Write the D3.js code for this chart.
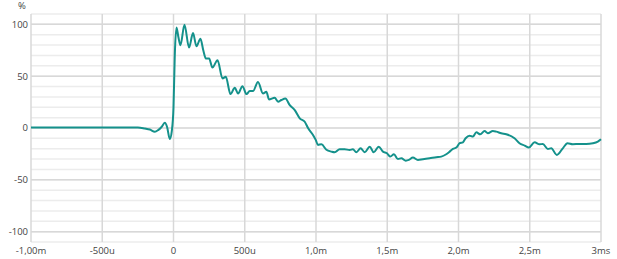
<html>
<head>
<script src="https://cdn.jsdelivr.net/npm/d3@7"></script>
<style>
    body { margin: 0; background: white; font-family: "Open Sans", sans-serif; }
    svg { display: block; }
    .tick-label { font-size: 9.5px; fill: #444; }
</style>
</head>
<body>
<svg id="chart"></svg>
<script>
    // time in ms, value in %
    let times = [-1.0, -0.5, -0.25, -0.201, -0.166, -0.131, -0.108, -0.084, -0.061, -0.045, -0.026, -0.012, 0.0, 0.009, 0.021, 0.034, 0.049, 0.077, 0.109, 0.137, 0.161, 0.189, 0.209, 0.227, 0.25, 0.273, 0.309, 0.344, 0.367, 0.4, 0.43, 0.453, 0.484, 0.512, 0.535, 0.558, 0.593, 0.628, 0.652, 0.67, 0.71, 0.734, 0.757, 0.785, 0.816, 0.851, 0.886, 0.921, 0.944, 0.979, 0.998, 1.014, 1.038, 1.073, 1.108, 1.131, 1.166, 1.201, 1.236, 1.259, 1.283, 1.313, 1.342, 1.377, 1.405, 1.44, 1.47, 1.498, 1.522, 1.547, 1.575, 1.599, 1.63, 1.652, 1.68, 1.715, 1.75, 1.797, 1.844, 1.879, 1.914, 1.938, 1.961, 1.985, 2.008, 2.031, 2.05, 2.078, 2.101, 2.125, 2.153, 2.183, 2.206, 2.241, 2.265, 2.3, 2.335, 2.393, 2.428, 2.464, 2.494, 2.534, 2.569, 2.592, 2.627, 2.651, 2.69, 2.732, 2.765, 2.802, 2.849, 2.896, 2.943, 2.978, 3.0];
    let values = [0.5, 0.5, 0.5, -0.5, -1.5, -3.5, -2, 1, 5, 1, -10.6, -3, 20, 70, 97, 88, 79.8, 99.7, 77.6, 91.6, 78.8, 86.2, 75, 67, 67, 58.3, 65.4, 47.8, 49.4, 32.7, 38.8, 33.3, 40.4, 32.7, 35.6, 35.6, 44.5, 33.3, 35, 27.6, 29.1, 25.3, 27, 28.5, 22, 17.3, 9.3, 6, 0, -6.7, -11.5, -16.3, -15.7, -21, -22.8, -23.4, -20.5, -20.5, -21.2, -20.5, -23.4, -19.6, -23.4, -18, -23.4, -18, -22.8, -24.4, -27.6, -25.3, -30, -29.2, -31.5, -30.8, -28.5, -30.8, -30.1, -29.2, -28.2, -27.6, -25.3, -22.8, -20.2, -18.9, -14.7, -13.8, -9.9, -7.4, -8.3, -4.2, -6.1, -2.9, -5.1, -2.9, -3.5, -5.1, -6, -9.9, -14.7, -17, -18.9, -13.8, -15.7, -15.4, -20.2, -19.6, -26, -19.6, -14.7, -15.7, -15.4, -15.4, -14.7, -13.1, -10.9];

    let xTicks = [-1, -0.5, 0, 0.5, 1, 1.5, 2, 2.5, 3];
    let xTickLabels = ["-1,00m", "-500u", "0", "500u", "1,0m", "1,5m", "2,0m", "2,5m", "3ms"];
    let yTicks = [100, 50, 0, -50, -100];
    let yMinor = d3.range(-110, 111, 10);

    function draw() {
        let width = 617, height = 259;
        let margin = {left: 31, right: 16, top: 14, bottom: 17};
        let svg = d3.select("#chart").attr("width", width).attr("height", height);

        let x = d3.scaleLinear().domain([-1, 3]).range([margin.left, width - margin.right]);
        let y = d3.scaleLinear().domain([-110, 110]).range([height - margin.bottom, margin.top]);

        // minor horizontal grid
        svg.append("g").selectAll("line").data(yMinor).enter().append("line")
            .attr("x1", x(-1)).attr("x2", x(3))
            .attr("y1", d => y(d)).attr("y2", d => y(d))
            .attr("stroke", "#ececec").attr("stroke-width", 1.5);

        // major horizontal grid
        svg.append("g").selectAll("line").data(yTicks).enter().append("line")
            .attr("x1", x(-1)).attr("x2", x(3))
            .attr("y1", d => y(d)).attr("y2", d => y(d))
            .attr("stroke", "#d8d8d8").attr("stroke-width", 1.5);

        // vertical grid
        svg.append("g").selectAll("line").data(xTicks).enter().append("line")
            .attr("x1", d => x(d)).attr("x2", d => x(d))
            .attr("y1", y(110)).attr("y2", y(-110))
            .attr("stroke", "#d8d8d8").attr("stroke-width", 1.5);

        // y tick labels
        svg.append("g").selectAll("text").data(yTicks).enter().append("text")
            .attr("class", "tick-label")
            .attr("x", margin.left - 3)
            .attr("y", d => y(d))
            .attr("dy", "0.35em")
            .attr("text-anchor", "end")
            .text(d => d);

        svg.append("text").attr("class", "tick-label")
            .attr("x", 22).attr("y", 9)
            .attr("text-anchor", "middle")
            .text("%");

        // x tick labels
        svg.append("g").selectAll("text").data(xTicks).enter().append("text")
            .attr("class", "tick-label")
            .attr("x", d => x(d))
            .attr("y", height - 5)
            .attr("text-anchor", "middle")
            .text((d, i) => xTickLabels[i]);

        let data = times.map((t, i) => ({t: t, v: values[i]}));
        let line = d3.line()
            .x(d => x(d.t))
            .y(d => y(d.v))
            .curve(d3.curveMonotoneX);

        svg.append("path")
            .datum(data)
            .attr("d", line)
            .attr("fill", "none")
            .attr("stroke", "#14918b")
            .attr("stroke-width", 2)
            .attr("stroke-linejoin", "round");
    }
    draw();
</script>
</body>
</html>
